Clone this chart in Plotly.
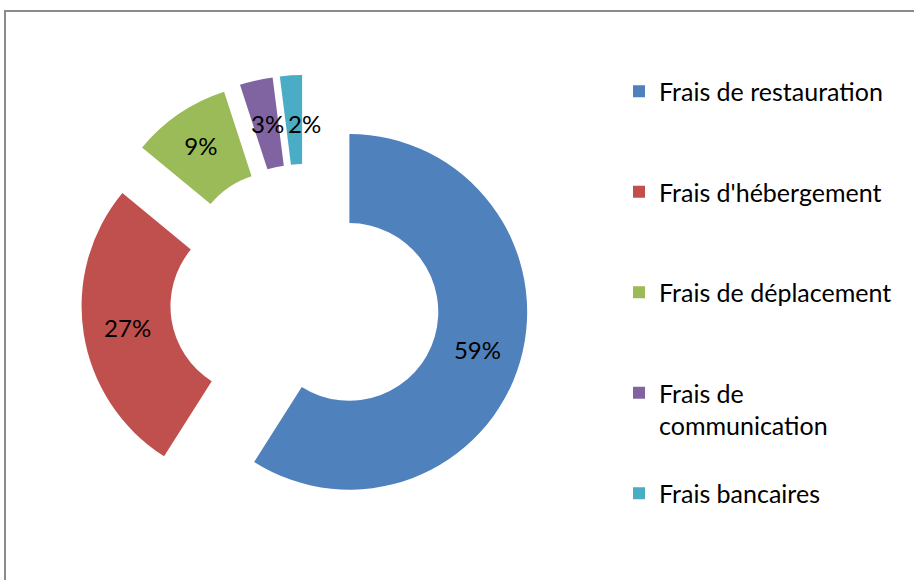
import math
import plotly.graph_objects as go

# Data
categories = ["Frais de restauration", "Frais d'hébergement", "Frais de déplacement",
              "Frais de communication", "Frais bancaires"]
legend_labels = ["Frais de restauration", "Frais d'hébergement", "Frais de déplacement",
                 "Frais de<br>communication", "Frais bancaires"]
values = [59, 27, 9, 3, 2]
colors = ["#4F81BD", "#C0504D", "#9BBB59", "#8064A2", "#4BACC6"]

W, H = 914, 580
FONT = "Lato, 'Open Sans', sans-serif"
HOLE = 0.5
PULL = 0.26
# pie box in pixels (left, right, top, bottom)
BX0, BX1, BY0, BY1 = 81, 529, 75, 523

# pad legend entries (except the last) to equal height: 3 text lines each
padded = []
for i, lab in enumerate(legend_labels):
    n = lab.count("<br>") + 1
    pad = 0 if i == len(legend_labels) - 1 else 3 - n
    padded.append(lab + "<br> " * pad)

total = sum(values)
small = [v / total < 0.05 for v in values]
textpos = ["none" if s else "inside" for s in small]

fig = go.Figure(go.Pie(
    labels=padded,
    values=values,
    marker=dict(colors=colors, line=dict(color="white", width=0)),
    hole=HOLE,
    pull=PULL,
    sort=False,
    direction="clockwise",
    rotation=0,
    texttemplate="%{percent:.0%}",
    textposition=textpos,
    insidetextorientation="horizontal",
    textfont=dict(family=FONT, size=24, color="black"),
    domain=dict(x=[BX0 / W, BX1 / W], y=[1 - BY1 / H, 1 - BY0 / H]),
    hoverinfo="label+value+percent",
))

# labels of the two thin neighbouring slices: placed side by side around
# the (pulled) boundary between them, in the middle of the ring
cx, cy = (BX0 + BX1) / 2, (BY0 + BY1) / 2
R = min(BX1 - BX0, BY1 - BY0) / 2 / (1 + PULL)
rad = R * (1 + HOLE) / 2 + R * PULL
small_idx = [i for i, s in enumerate(small) if s]
boundary = sum(values[:small_idx[-1]])
theta = math.radians(360 * boundary / total)
bx = cx + rad * math.sin(theta)
by = cy - rad * math.cos(theta)
annotations = []
for k, i in enumerate(small_idx):
    annotations.append(dict(
        x=bx / W, y=1 - by / H, xref="paper", yref="paper",
        xanchor="right" if k == 0 else "left", yanchor="middle",
        xshift=4, yshift=-3,
        text=f"{round(100 * values[i] / total)}%", showarrow=False,
        font=dict(family=FONT, size=24, color="black"),
    ))

fig.update_layout(
    width=W, height=H,
    margin=dict(l=0, r=0, t=0, b=0),
    paper_bgcolor="white",
    plot_bgcolor="white",
    annotations=annotations,
    legend=dict(
        x=619 / W, xanchor="left",
        y=1 - 68.5 / H, yanchor="top",
        font=dict(family=FONT, size=25, color="black"),
        valign="top",
        bgcolor="rgba(0,0,0,0)",
    ),
    shapes=[
        dict(type="line", xref="paper", yref="paper", x0=4 / W, x1=1, y0=1 - 11 / H, y1=1 - 11 / H,
             line=dict(color="#8a8a8a", width=2)),
        dict(type="line", xref="paper", yref="paper", x0=5 / W, x1=5 / W, y0=0, y1=1 - 11 / H,
             line=dict(color="#8a8a8a", width=2)),
    ],
)

fig.write_html("out.html", config={"displayModeBar": False},
               post_script="document.body.style.margin='0';")
